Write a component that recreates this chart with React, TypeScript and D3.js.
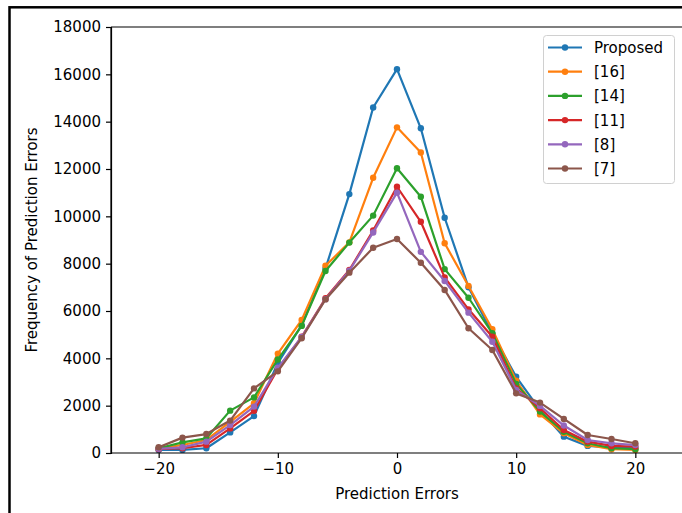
import React, { useEffect, useRef } from 'react';
import * as d3 from 'd3';

const errors = [-20, -18, -16, -14, -12, -10, -8, -6, -4, -2, 0, 2, 4, 6, 8, 10, 12, 14, 16, 18, 20];

const proposed = [130, 130, 200, 870, 1560, 3800, 5400, 7800, 10940, 14600, 16220, 13720, 9940, 7000, 5050, 3220, 1820, 690, 300, 240, 200];
const ref16 = [180, 340, 550, 1320, 2100, 4200, 5620, 7910, 8900, 11630, 13760, 12700, 8860, 7060, 5230, 3050, 1630, 830, 340, 160, 130];
const ref14 = [200, 450, 620, 1790, 2350, 3950, 5370, 7690, 8890, 10030, 12030, 10830, 7770, 6560, 5060, 2920, 1750, 900, 410, 200, 160];
const ref11 = [160, 200, 340, 1040, 1780, 3550, 4910, 6540, 7730, 9400, 11250, 9770, 7420, 6070, 4910, 2730, 1890, 970, 480, 300, 270];
const ref8 = [180, 240, 480, 1180, 1960, 3600, 4900, 6500, 7700, 9320, 11000, 8500, 7270, 5930, 4700, 2660, 1990, 1160, 550, 410, 340];
const ref7 = [240, 650, 800, 1370, 2730, 3450, 4850, 6490, 7620, 8670, 9040, 8040, 6890, 5270, 4350, 2520, 2130, 1440, 760, 590, 410];

const seriesNames = ['Proposed', '[16]', '[14]', '[11]', '[8]', '[7]'];
const seriesValues = [proposed, ref16, ref14, ref11, ref8, ref7];
const colors = ['#1f77b4', '#ff7f0e', '#2ca02c', '#d62728', '#9467bd', '#8c564b'];

const xTicks = [-20, -10, 0, 10, 20];
const yTicks = [0, 2000, 4000, 6000, 8000, 10000, 12000, 14000, 16000, 18000];

const App = () => {
  const svgRef = useRef<SVGSVGElement>(null);

  useEffect(() => {
    const W = 682;
    const H = 513;
    const left = 111;
    const right = 683;
    const top = 27;
    const bottom = 453;
    const font = 'DejaVu Sans, sans-serif';

    const svg = d3.select(svgRef.current);
    svg.selectAll('*').remove();
    svg.attr('width', W).attr('height', H);

    svg.append('rect').attr('width', W).attr('height', H).attr('fill', '#fff');

    // outer frame around the figure
    svg.append('rect')
      .attr('x', 9.5).attr('y', 7.3)
      .attr('width', W + 20).attr('height', H + 20)
      .attr('fill', 'none').attr('stroke', '#000').attr('stroke-width', 2.5);

    const x = d3.scaleLinear().domain([-24, 24]).range([left, right]);
    const y = d3.scaleLinear().domain([0, 18000]).range([bottom, top]);

    const g = svg.append('g');

    const line = d3.line<number>()
      .x((d, i) => x(errors[i]))
      .y(d => y(d));

    seriesValues.forEach((vals, k) => {
      g.append('path')
        .datum(vals)
        .attr('d', line)
        .attr('fill', 'none')
        .attr('stroke', colors[k])
        .attr('stroke-width', 2.2)
        .attr('stroke-linejoin', 'round')
        .attr('stroke-linecap', 'square');
      g.selectAll(null)
        .data(vals)
        .enter()
        .append('circle')
        .attr('cx', (d, i) => x(errors[i]))
        .attr('cy', d => y(d))
        .attr('r', 3.2)
        .attr('fill', colors[k]);
    });

    // spines
    svg.append('line')
      .attr('x1', left).attr('x2', left).attr('y1', top).attr('y2', bottom)
      .attr('stroke', '#000').attr('stroke-width', 1.2);
    svg.append('line')
      .attr('x1', left).attr('x2', right).attr('y1', top).attr('y2', top)
      .attr('stroke', '#000').attr('stroke-width', 1.2);

    const xAxis = svg.append('g')
      .attr('transform', `translate(0,${bottom})`)
      .call(d3.axisBottom(x).tickValues(xTicks).tickSize(5).tickPadding(5));
    const yAxis = svg.append('g')
      .attr('transform', `translate(${left},0)`)
      .call(d3.axisLeft(y).tickValues(yTicks).tickFormat(d3.format('d')).tickSize(5).tickPadding(5));

    [xAxis, yAxis].forEach(ax => {
      ax.select('.domain').attr('stroke', '#000').attr('stroke-width', 1.2);
      ax.selectAll('.tick line').attr('stroke', '#000').attr('stroke-width', 1.2);
      ax.selectAll('.tick text')
        .attr('fill', '#000')
        .style('font-family', font)
        .style('font-size', '15px');
    });
    xAxis.select('.domain').attr('d', `M${left},0H${right}`);

    svg.append('text')
      .attr('x', (left + x(24)) / 2 + 110 - 110)
      .attr('x', x(0))
      .attr('y', 499)
      .attr('text-anchor', 'middle')
      .style('font-family', font)
      .style('font-size', '15px')
      .text('Prediction Errors');

    svg.append('text')
      .attr('transform', `translate(37,${(top + bottom) / 2}) rotate(-90)`)
      .attr('text-anchor', 'middle')
      .style('font-family', font)
      .style('font-size', '15px')
      .text('Frequency of Prediction Errors');

    // legend
    const legend = svg.append('g');
    legend.append('rect')
      .attr('x', 543.5).attr('y', 35.5)
      .attr('width', 131).attr('height', 148)
      .attr('rx', 3)
      .attr('fill', '#fff').attr('fill-opacity', 0.8)
      .attr('stroke', '#d0d0d0').attr('stroke-width', 1);

    seriesNames.forEach((name, k) => {
      const ly = 47.5 + k * 24.2;
      legend.append('line')
        .attr('x1', 548).attr('x2', 582).attr('y1', ly).attr('y2', ly)
        .attr('stroke', colors[k]).attr('stroke-width', 2.2);
      legend.append('circle')
        .attr('cx', 565).attr('cy', ly).attr('r', 3.2).attr('fill', colors[k]);
      legend.append('text')
        .attr('x', 594).attr('y', ly + 5.5)
        .style('font-family', font)
        .style('font-size', '15px')
        .text(name);
    });
  }, []);

  return (
    <svg ref={svgRef} style={{ position: 'absolute', left: 0, top: 0, display: 'block' }}></svg>
  );
};

export default App;
